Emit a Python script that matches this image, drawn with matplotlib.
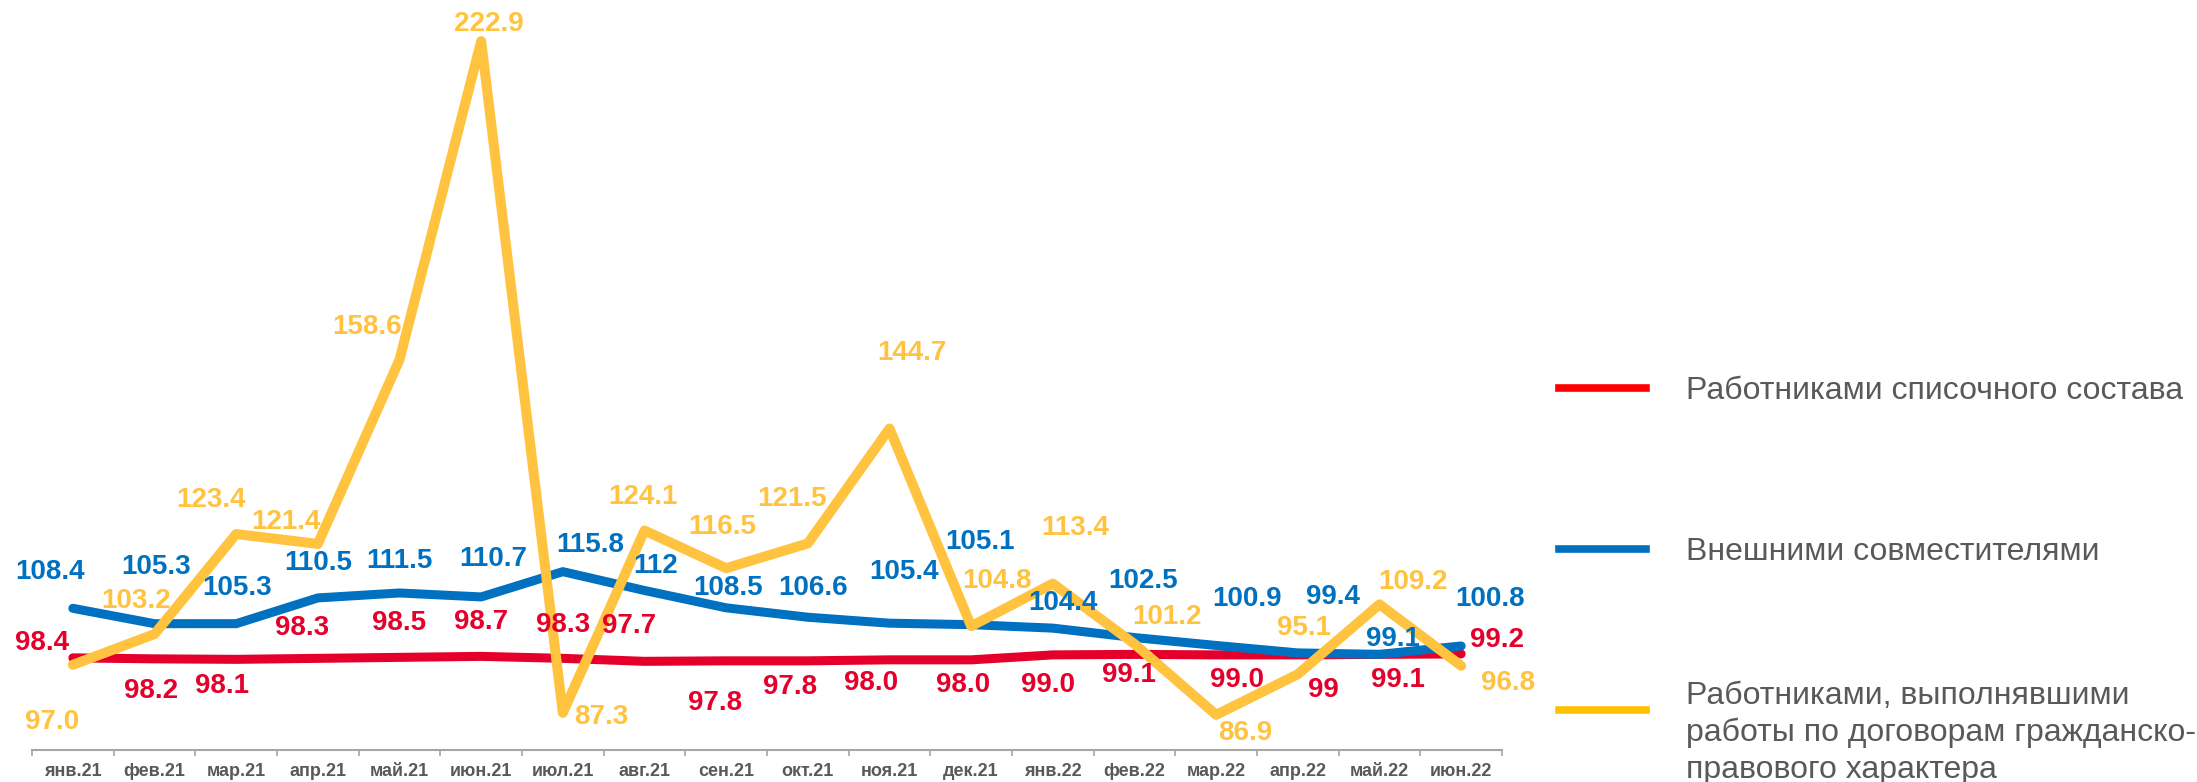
import matplotlib
matplotlib.use("Agg")
import matplotlib.pyplot as plt
from matplotlib.lines import Line2D

plt.rcParams["font.family"] = ["Liberation Sans", "DejaVu Sans"]

MONTHS = ["янв.21", "фев.21", "мар.21", "апр.21", "май.21", "июн.21",
          "июл.21", "авг.21", "сен.21", "окт.21", "ноя.21", "дек.21",
          "янв.22", "фев.22", "мар.22", "апр.22", "май.22", "июн.22"]

# Работниками списочного состава
staff = [98.4, 98.2, 98.1, 98.3, 98.5, 98.7, 98.3, 97.7, 97.8,
         97.8, 98.0, 98.0, 99.0, 99.1, 99.0, 99.0, 99.1, 99.2]
staff_lbl = ["98.4", "98.2", "98.1", "98.3", "98.5", "98.7", "98.3", "97.7", "97.8",
             "97.8", "98.0", "98.0", "99.0", "99.1", "99.0", "99", "99.1", "99.2"]

# Внешними совместителями
external = [108.4, 105.3, 105.3, 110.5, 111.5, 110.7, 115.8, 112.0, 108.5,
            106.6, 105.4, 105.1, 104.4, 102.5, 100.9, 99.4, 99.1, 100.8]
external_lbl = ["108.4", "105.3", "105.3", "110.5", "111.5", "110.7", "115.8", "112", "108.5",
                "106.6", "105.4", "105.1", "104.4", "102.5", "100.9", "99.4", "99.1", "100.8"]

# Работниками по договорам ГПХ
contract = [97.0, 103.2, 123.4, 121.4, 158.6, 222.9, 87.3, 124.1, 116.5,
            121.5, 144.7, 104.8, 113.4, 101.2, 86.9, 95.1, 109.2, 96.8]
contract_lbl = ["97.0", "103.2", "123.4", "121.4", "158.6", "222.9", "87.3", "124.1", "116.5",
                "121.5", "144.7", "104.8", "113.4", "101.2", "86.9", "95.1", "109.2", "96.8"]

LEGEND = ["Работниками списочного состава",
          "Внешними совместителями",
          "Работниками, выполнявшими\nработы по договорам гражданско-\nправового характера"]

RED = "#E4002B"
BLUE = "#0070C0"
YELLOW = "#FFC340"

# label offsets in pixels (dx right, dy down)
staff_off = [(-31, -15), (-3, 32), (-14, 27), (-16, -30), (0, -34), (0, -34), (0, -33),
             (-15, -35), (-11, 42), (-18, 26), (-18, 23), (-8, 25), (-5, 30), (-6, 21),
             (21, 25), (26, 35), (18, 26), (36, -14)]
external_off = [(-23, -36), (2, -57), (1, -36), (0, -35), (0, -32), (12, -38), (27, -27),
                (11, -24), (2, -20), (5, -29), (14, -51), (9, -83), (10, -25), (9, -57),
                (31, -46), (35, -56), (13, -15), (29, -47)]
contract_off = [(-21, 57), (-18, -33), (-25, -34), (-32, -22), (-32, -33), (8, -17), (38, 4),
                (-2, -34), (-4, -41), (-16, -44), (22, -76), (26, -45), (22, -56), (33, -27),
                (29, 18), (6, -46), (33, -22), (47, 17)]

W, H = 2197, 782
fig = plt.figure(figsize=(W / 100, H / 100), dpi=100)
ax = fig.add_axes([32 / W, (H - 750) / H, (1502 - 32) / W, 750 / H])

x = list(range(len(MONTHS)))
series = [
    (staff, staff_lbl, staff_off, RED, 6.5, 2),
    (external, external_lbl, external_off, BLUE, 6.5, 3),
    (contract, contract_lbl, contract_off, YELLOW, 7.2, 4),
]
for vals, lbls, offs, col, lw, z in series:
    ax.plot(x, vals, color=col, lw=lw, solid_capstyle="round",
            solid_joinstyle="round", zorder=z)
    for xi, v, t, (dx, dy) in zip(x, vals, lbls, offs):
        ax.annotate(t, (xi, v), xytext=(dx, -dy), textcoords="offset pixels",
                    ha="center", va="center", fontsize=20, fontweight="bold",
                    color=col, zorder=10)

ax.set_xlim(-0.5, len(MONTHS) - 0.5)
ax.set_ylim(79.8, 231.2)
# month labels on major ticks, category boundaries as minor tick marks
ax.set_xticks(x)
ax.set_xticklabels(MONTHS, fontsize=13, fontweight="bold", color="#595959")
ax.set_xticks([i - 0.5 for i in range(len(MONTHS) + 1)], minor=True)
ax.tick_params(axis="x", which="major", length=0, pad=9)
ax.tick_params(axis="x", which="minor", length=4, width=1.2, color="#A6A6A6")
ax.set_yticks([])
for s in ["left", "right", "top"]:
    ax.spines[s].set_visible(False)
ax.spines["bottom"].set_color("#A6A6A6")
ax.spines["bottom"].set_linewidth(1.5)

# legend drawn by hand (text baselines in pixels from the top)
leg_cols = ["#FF0000", BLUE, "#FFC000"]
leg_y = [388, 549, 710]
text_base = [399, 560, 704]
for lbl, c, ly, ty in zip(LEGEND, leg_cols, leg_y, text_base):
    fig.add_artist(Line2D([1559 / W, 1646 / W], [1 - ly / H, 1 - ly / H],
                          color=c, lw=5.5, transform=fig.transFigure))
    for k, line in enumerate(lbl.split("\n")):
        fig.text(1686 / W, 1 - (ty + 37 * k) / H, line, fontsize=23,
                 color="#595959", ha="left", va="baseline")

fig.savefig("out.png", dpi=100)
